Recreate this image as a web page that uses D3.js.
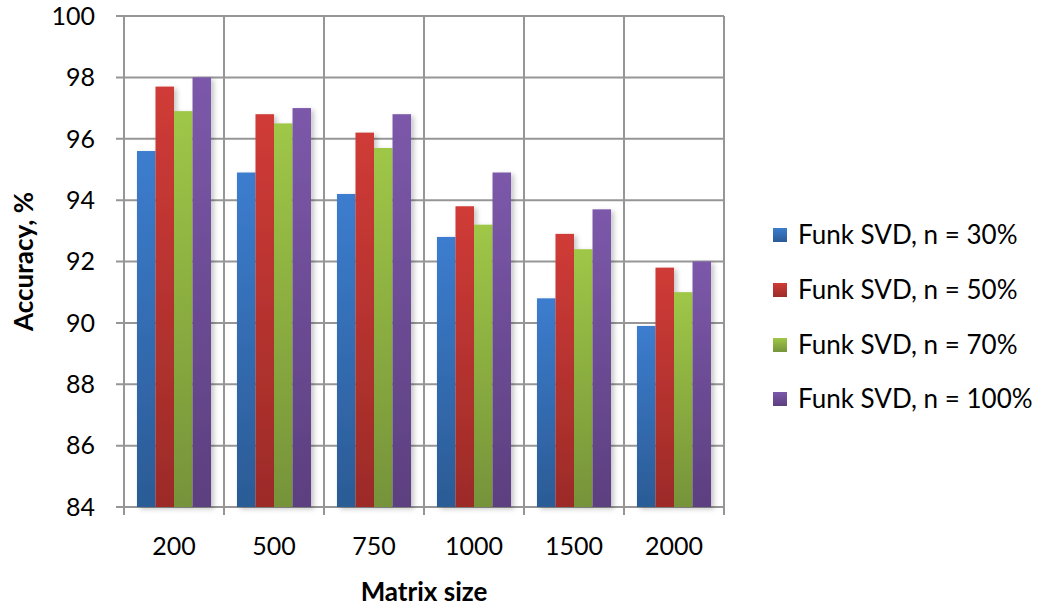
<!DOCTYPE html>
<html>
<head>
<meta charset="utf-8">
<script src="https://cdn.jsdelivr.net/npm/d3@7"></script>
<style>
  html, body { margin: 0; padding: 0; background: #fff; }
  svg { display: block; font-family: Lato, "Open Sans", sans-serif; }
</style>
</head>
<body>
<svg id="chart" width="1052" height="610"></svg>
<script>
// Matrix sizes along the x axis
const categories = ["200", "500", "750", "1000", "1500", "2000"];
// Series names shown in the legend
const seriesNames = ["Funk SVD, n = 30%", "Funk SVD, n = 50%", "Funk SVD, n = 70%", "Funk SVD, n = 100%"];
// Accuracy (%) per matrix size, one array per series
const n30  = [95.6, 94.9, 94.2, 92.8, 90.8, 89.9];
const n50  = [97.7, 96.8, 96.2, 93.8, 92.9, 91.8];
const n70  = [96.9, 96.5, 95.7, 93.2, 92.4, 91.0];
const n100 = [98.0, 97.0, 96.8, 94.9, 93.7, 92.0];
const yTicks = [84, 86, 88, 90, 92, 94, 96, 98, 100];

const seriesValues = [n30, n50, n70, n100];
const colorTop = ["#3c7dcf", "#d03b37", "#9fc747", "#7c58aa"];
const colorBottom = ["#2b5b95", "#9c2b28", "#76933a", "#5c3f7f"];

const svg = d3.select("#chart");
const m = { left: 124, right: 724, top: 16, bottom: 507 };

const x0 = d3.scaleBand().domain(categories).range([m.left, m.right]).paddingInner(0).paddingOuter(0);
const x1 = d3.scaleBand().domain(d3.range(seriesNames.length))
  .range([0, x0.bandwidth()]).paddingInner(0).paddingOuter(0.7);
const y = d3.scaleLinear().domain([84, 100]).range([m.bottom, m.top]);

const defs = svg.append("defs");
seriesNames.forEach((s, i) => {
  const g = defs.append("linearGradient").attr("id", "grad" + i)
    .attr("x1", 0).attr("y1", 0).attr("x2", 0).attr("y2", 1);
  g.append("stop").attr("offset", "0%").attr("stop-color", colorTop[i]);
  g.append("stop").attr("offset", "100%").attr("stop-color", colorBottom[i]);
});
const shadow = defs.append("filter").attr("id", "shadow")
  .attr("x", "-30%").attr("y", "-10%").attr("width", "180%").attr("height", "130%");
shadow.append("feDropShadow").attr("dx", 3).attr("dy", 2).attr("stdDeviation", 2.5)
  .attr("flood-color", "#000").attr("flood-opacity", 0.22);

const gridColor = "#969696";

// Horizontal gridlines
svg.append("g").selectAll("line").data(yTicks).join("line")
  .attr("x1", m.left - 8).attr("x2", m.right)
  .attr("y1", d => y(d)).attr("y2", d => y(d))
  .attr("stroke", gridColor).attr("stroke-width", 2);

// Vertical gridlines at category boundaries
const bounds = categories.map(c => x0(c)).concat([m.right]);
svg.append("g").selectAll("line").data(bounds).join("line")
  .attr("x1", d => d).attr("x2", d => d)
  .attr("y1", m.top).attr("y2", m.bottom + 8)
  .attr("stroke", gridColor).attr("stroke-width", 2);

// Bars
const groups = svg.append("g").selectAll("g").data(categories).join("g")
  .attr("transform", c => `translate(${x0(c)},0)`);
groups.selectAll("rect")
  .data((c, ci) => seriesValues.map((vals, si) => ({ si, v: vals[ci] })))
  .join("rect")
  .attr("x", d => x1(d.si))
  .attr("width", x1.bandwidth())
  .attr("y", d => y(d.v))
  .attr("height", d => y(84) - y(d.v))
  .attr("fill", d => `url(#grad${d.si})`)
  .attr("filter", "url(#shadow)");

// Y tick labels
svg.append("g").selectAll("text").data(yTicks).join("text")
  .attr("x", 95).attr("y", d => y(d)).attr("dy", "0.35em")
  .attr("text-anchor", "end").attr("font-size", 25).attr("fill", "#000")
  .text(d => d);

// X tick labels
svg.append("g").selectAll("text").data(categories).join("text")
  .attr("x", c => x0(c) + x0.bandwidth() / 2).attr("y", 546).attr("dy", "0.35em")
  .attr("text-anchor", "middle").attr("font-size", 25).attr("fill", "#000")
  .text(c => c);

// Axis titles
svg.append("text").attr("x", (m.left + m.right) / 2).attr("y", 592).attr("dy", "0.35em")
  .attr("text-anchor", "middle").attr("font-size", 26).attr("font-weight", "bold")
  .text("Matrix size");
svg.append("text").attr("transform", `translate(24,${(m.top + m.bottom) / 2}) rotate(-90)`)
  .attr("dy", "0.35em").attr("text-anchor", "middle").attr("font-size", 26).attr("font-weight", "bold")
  .text("Accuracy, %");

// Legend
const legendY = [235, 290, 345, 399];
const legend = svg.append("g").selectAll("g").data(seriesNames).join("g")
  .attr("transform", (d, i) => `translate(773,${legendY[i]})`);
legend.append("rect").attr("x", 0).attr("y", -7).attr("width", 14).attr("height", 14)
  .attr("fill", (d, i) => `url(#grad${i})`);
legend.append("text").attr("x", 25).attr("y", 0).attr("dy", "0.35em")
  .attr("font-size", 26).attr("fill", "#000").text(d => d);
</script>
</body>
</html>
